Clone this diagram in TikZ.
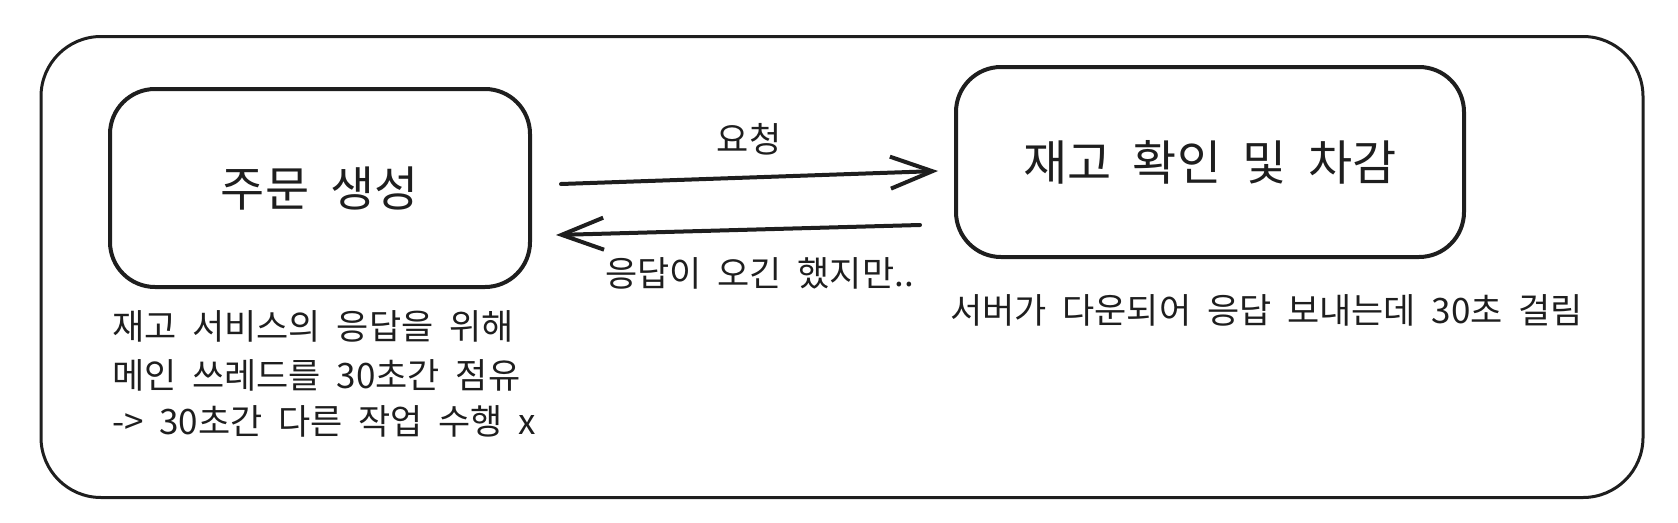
\documentclass[tikz,border=0pt]{standalone}
\usepackage{fontspec}
\setmainfont{Noto Sans CJK KR}
\usetikzlibrary{arrows.meta}
\definecolor{ink}{HTML}{1E1E1E}
\newcommand{\widesp}{\spaceskip=0.45em plus 0.1em\relax}
\tikzset{
  frame/.style={draw=ink, line width=3pt, rounded corners=60pt, minimum width=1602pt, minimum height=461pt, inner sep=0pt},
  procbox/.style={draw=ink, line width=4pt, rounded corners=45pt, inner sep=0pt, font=\fontsize{48}{54}\selectfont\widesp, text=ink},
  flow/.style={draw=ink, line width=4pt, line cap=round, -{Straight Barb[length=42pt,width=32pt,line width=4pt]}},
  lbl/.style={font=\fontsize{35}{42}\selectfont\widesp, text=ink, inner sep=0pt},
}
\begin{document}
\begin{tikzpicture}[x=1pt,y=-1pt]
\useasboundingbox (0,0) rectangle (1678,522);
\node[frame] (outer) at (842,267) {};
\node[procbox, minimum width=420pt, minimum height=198pt] (order) at (320,188) {주문 생성};
\node[procbox, minimum width=508pt, minimum height=190pt] (stock) at (1210,162) {재고 확인 및 차감};
\draw[flow] ([xshift=29pt,yshift=4pt]order.east) -- ([xshift=-16pt,yshift=-9pt]stock.west);
\draw[flow] ([xshift=-34pt,yshift=-63pt]stock.west) -- ([xshift=24pt,yshift=-47pt]order.east);
\node[lbl] (req) at (749,139) {요청};
\node[lbl, anchor=west] (resp) at (605,273) {응답이 오긴 했지만..};
\node[lbl, anchor=west] (note1) at (112,326) {재고 서비스의 응답을 위해};
\node[lbl, anchor=west] (note2) at (112,375) {메인 쓰레드를 30초간 점유};
\node[lbl, anchor=west] (note3) at (112,421) {-> 30초간 다른 작업 수행 x};
\node[lbl, anchor=west] (note4) at (950,310) {서버가 다운되어 응답 보내는데 30초 걸림};
\end{tikzpicture}
\end{document}
